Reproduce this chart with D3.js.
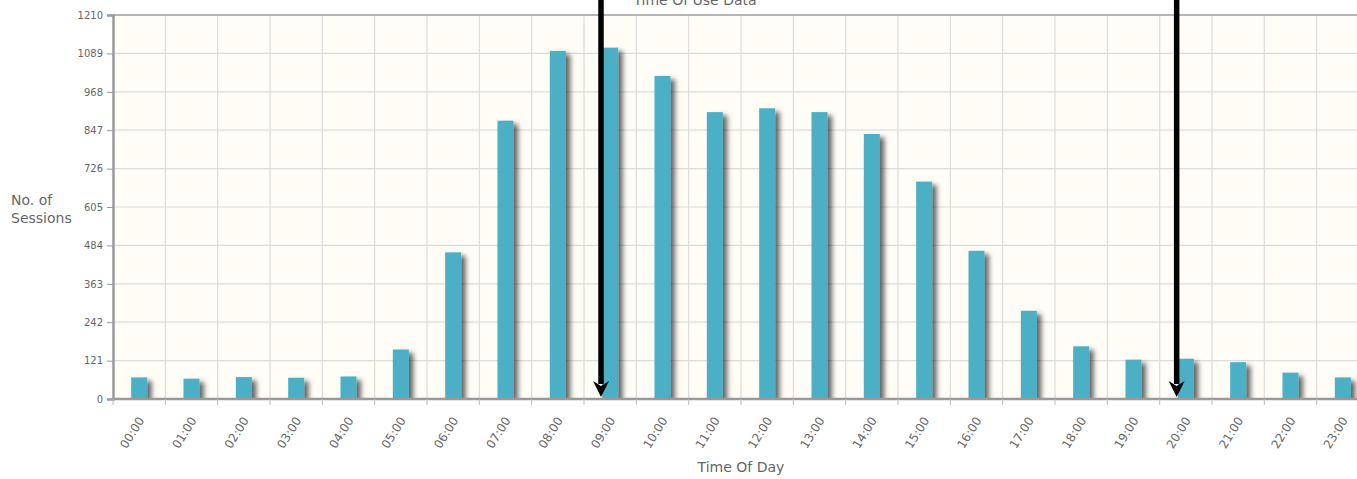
<!DOCTYPE html>
<html>
<head>
<meta charset="utf-8">
<script src="https://cdn.jsdelivr.net/npm/d3@7"></script>
<style>
  html, body { margin: 0; padding: 0; background: #fff; }
  svg { display: block; }
  text { font-family: "DejaVu Sans", Verdana, sans-serif; fill: #666; }
</style>
</head>
<body>
<svg id="chart" width="1357" height="479"></svg>
<script>
const hours = ["00:00","01:00","02:00","03:00","04:00","05:00","06:00","07:00","08:00","09:00","10:00","11:00",
               "12:00","13:00","14:00","15:00","16:00","17:00","18:00","19:00","20:00","21:00","22:00","23:00"];
const sessions = [68, 64, 69, 67, 71, 156, 462, 877, 1097, 1107, 1018, 904,
                  916, 904, 835, 685, 467, 278, 166, 124, 127, 116, 83, 68];
const yTicks = [0, 121, 242, 363, 484, 605, 726, 847, 968, 1089, 1210];
const arrowHours = ["09:00", "20:00"];
const chartTitle = "Time Of Use Data";
const xTitle = "Time Of Day";
const yTitleLines = ["No. of", "Sessions"];

const svg = d3.select("#chart");
const pLeft = 113, pTop = 15, pBottom = 399, pRight = 1369;

const x = d3.scaleBand().domain(hours).range([pLeft, pRight]).paddingInner(0).paddingOuter(0);
const y = d3.scaleLinear().domain([0, 1210]).range([pBottom, pTop]);

const defs = svg.append("defs");
const f = defs.append("filter").attr("id", "shadow").attr("x", "-20%").attr("y", "-5%").attr("width", "200%").attr("height", "120%");
f.append("feDropShadow").attr("dx", 4.5).attr("dy", 3.5).attr("stdDeviation", 2.6)
  .attr("flood-color", "#000").attr("flood-opacity", 0.6);
const clip = defs.append("clipPath").attr("id", "plotclip");
clip.append("rect").attr("x", pLeft).attr("y", pTop).attr("width", pRight - pLeft).attr("height", pBottom - pTop);

// plot background
svg.append("rect").attr("x", pLeft).attr("y", pTop).attr("width", pRight - pLeft).attr("height", pBottom - pTop)
  .attr("fill", "#fffdf6");

// horizontal grid
svg.append("g").selectAll("line").data(yTicks).join("line")
  .attr("x1", pLeft).attr("x2", pRight)
  .attr("y1", d => y(d)).attr("y2", d => y(d))
  .attr("stroke", "#dcdcdc").attr("stroke-width", 1.2);

// vertical grid at band boundaries
const bounds = hours.map(h => x(h)).concat([pRight]);
svg.append("g").selectAll("line").data(bounds.slice(1)).join("line")
  .attr("x1", d => d).attr("x2", d => d)
  .attr("y1", pTop).attr("y2", pBottom)
  .attr("stroke", "#dcdcdc").attr("stroke-width", 1.2);

// top border
svg.append("line").attr("x1", pLeft).attr("x2", pRight).attr("y1", pTop).attr("y2", pTop)
  .attr("stroke", "#b5b5b5").attr("stroke-width", 2);

// bars
const bw = 16;
svg.append("g").attr("clip-path", "url(#plotclip)").selectAll("rect").data(hours).join("rect")
  .attr("x", (d) => x(d) + x.bandwidth() / 2 - bw / 2)
  .attr("y", (d, i) => y(sessions[i]))
  .attr("width", bw)
  .attr("height", (d, i) => pBottom - y(sessions[i]))
  .attr("fill", "#4bb0c6")
  .attr("filter", "url(#shadow)");

// y axis
const yAxis = d3.axisLeft(y).tickValues(yTicks).tickSize(6).tickPadding(4).tickFormat(d3.format("d"));
const gy = svg.append("g").attr("transform", `translate(${pLeft},0)`).call(yAxis);
gy.select(".domain").attr("stroke", "#999").attr("stroke-width", 2.5);
gy.selectAll(".tick line").attr("stroke", "#999");
gy.selectAll(".tick text").attr("font-size", 10).attr("fill", "#666")
  .style("font-family", "'DejaVu Sans', Verdana, sans-serif");

// x axis line
svg.append("line").attr("x1", pLeft).attr("x2", pRight).attr("y1", pBottom).attr("y2", pBottom)
  .attr("stroke", "#999").attr("stroke-width", 2.5);
// x ticks at boundaries
svg.append("g").selectAll("line").data(bounds).join("line")
  .attr("x1", d => d).attr("x2", d => d)
  .attr("y1", pBottom).attr("y2", pBottom + 6)
  .attr("stroke", "#bbb").attr("stroke-width", 1);

// x labels
svg.append("g").selectAll("text").data(hours).join("text")
  .attr("transform", d => `translate(${x(d) + x.bandwidth() / 2 + 2},${pBottom + 19}) rotate(-58)`)
  .attr("text-anchor", "end")
  .attr("dy", "0.35em")
  .attr("font-size", 12)
  .text(d => d);

// axis titles
svg.append("text").attr("x", (pLeft + pRight) / 2).attr("y", 472)
  .attr("text-anchor", "middle").attr("font-size", 14).text(xTitle);
svg.append("text").attr("x", 11).attr("y", 205).attr("font-size", 14)
  .selectAll("tspan").data(yTitleLines).join("tspan")
  .attr("x", 11).attr("dy", (d, i) => i === 0 ? 0 : 18).text(d => d);

// title (partially cut at top, as in the source)
svg.append("text").attr("x", 695).attr("y", 5).attr("text-anchor", "middle")
  .attr("font-size", 14).text(chartTitle);

// arrows
const ag = svg.append("g");
arrowHours.forEach(h => {
  const cx = x(h) + 17;
  ag.append("line").attr("x1", cx).attr("x2", cx).attr("y1", 0).attr("y2", 384)
    .attr("stroke", "#000").attr("stroke-width", 5.5);
  ag.append("path")
    .attr("d", `M${cx - 8},${381} L${cx},${386} L${cx + 8},${381} L${cx},${397} Z`)
    .attr("fill", "#000");
});
</script>
</body>
</html>
